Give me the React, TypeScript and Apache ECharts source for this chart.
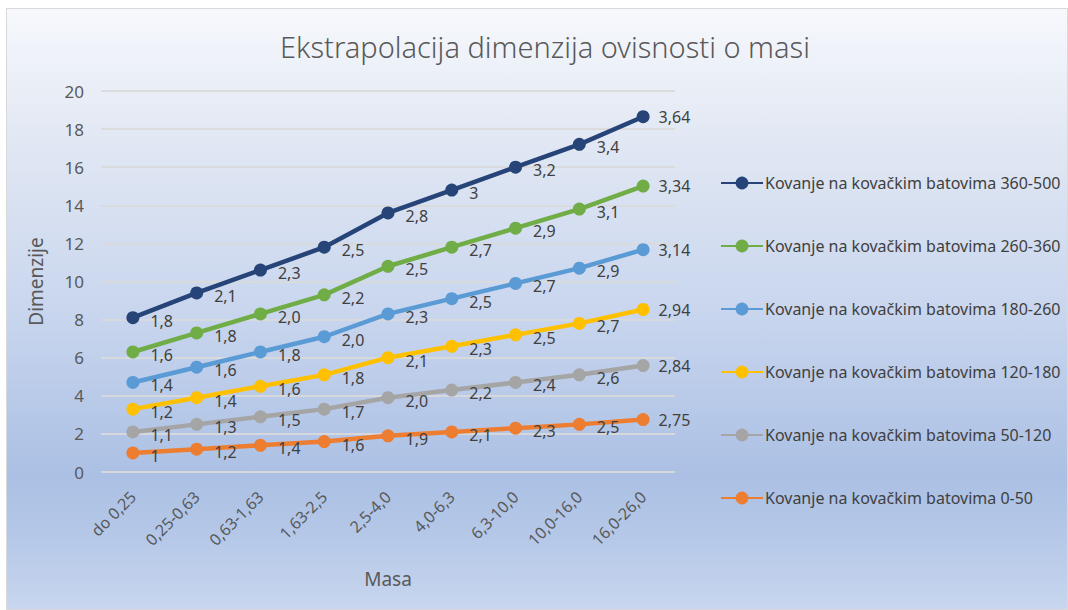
import React, { useEffect, useRef } from "react";
import * as echarts from "echarts";

const categories = ["do 0,25", "0,25-0,63", "0,63-1,63", "1,63-2,5", "2,5-4,0", "4,0-6,3", "6,3-10,0", "10,0-16,0", "16,0-26,0"];

const names = [
  "Kovanje na kovačkim batovima 0-50",
  "Kovanje na kovačkim batovima 50-120",
  "Kovanje na kovačkim batovima 120-180",
  "Kovanje na kovačkim batovima 180-260",
  "Kovanje na kovačkim batovima 260-360",
  "Kovanje na kovačkim batovima 360-500",
];

const v0_50 = [1, 1.2, 1.4, 1.6, 1.9, 2.1, 2.3, 2.5, 2.75];
const v50_120 = [1.1, 1.3, 1.5, 1.7, 2.0, 2.2, 2.4, 2.6, 2.84];
const v120_180 = [1.2, 1.4, 1.6, 1.8, 2.1, 2.3, 2.5, 2.7, 2.94];
const v180_260 = [1.4, 1.6, 1.8, 2.0, 2.3, 2.5, 2.7, 2.9, 3.14];
const v260_360 = [1.6, 1.8, 2.0, 2.2, 2.5, 2.7, 2.9, 3.1, 3.34];
const v360_500 = [1.8, 2.1, 2.3, 2.5, 2.8, 3, 3.2, 3.4, 3.64];

const l0_50 = ["1", "1,2", "1,4", "1,6", "1,9", "2,1", "2,3", "2,5", "2,75"];
const l50_120 = ["1,1", "1,3", "1,5", "1,7", "2,0", "2,2", "2,4", "2,6", "2,84"];
const l120_180 = ["1,2", "1,4", "1,6", "1,8", "2,1", "2,3", "2,5", "2,7", "2,94"];
const l180_260 = ["1,4", "1,6", "1,8", "2,0", "2,3", "2,5", "2,7", "2,9", "3,14"];
const l260_360 = ["1,6", "1,8", "2,0", "2,2", "2,5", "2,7", "2,9", "3,1", "3,34"];
const l360_500 = ["1,8", "2,1", "2,3", "2,5", "2,8", "3", "3,2", "3,4", "3,64"];

const yTicks = [0, 20, 2];

const colors = ["#ed7d31", "#a5a5a5", "#ffc000", "#5b9bd5", "#70ad47", "#264478"];

const FONT = "'Noto Sans', sans-serif";

export default function App() {
  const ref = useRef<HTMLDivElement>(null);
  useEffect(() => {
    if (!ref.current) return;
    const chart = echarts.init(ref.current, undefined, { renderer: "svg" });
    const values = [v0_50, v50_120, v120_180, v180_260, v260_360, v360_500];
    const labels = [l0_50, l50_120, l120_180, l180_260, l260_360, l360_500];
    chart.setOption({
      animation: false,
      backgroundColor: "transparent",
      textStyle: { fontFamily: FONT },
      title: {
        text: "Ekstrapolacija dimenzija ovisnosti o masi",
        left: 540,
        textAlign: "center",
        top: 27,
        textStyle: { fontFamily: FONT, fontSize: 29, fontWeight: 300, color: "#595959" },
      },
      legend: {
        orient: "vertical",
        left: 715,
        top: 170,
        itemWidth: 42,
        itemHeight: 16,
        itemGap: 47,
        data: names.slice().reverse(),
        textStyle: { fontFamily: FONT, fontSize: 16, color: "#404040", padding: [0, 0, 0, -3] },
      },
      grid: { left: 101, right: 393, top: 91, bottom: 138 },
      xAxis: {
        type: "category",
        data: categories,
        boundaryGap: true,
        name: "Masa",
        nameLocation: "middle",
        nameGap: 97,
        nameTextStyle: { fontFamily: FONT, fontSize: 19, color: "#595959" },
        axisLine: { show: false },
        axisTick: { show: false },
        axisLabel: { rotate: 45, fontSize: 16, color: "#595959", margin: 22, interval: 0 },
      },
      yAxis: {
        type: "value",
        min: yTicks[0],
        max: yTicks[1],
        interval: yTicks[2],
        name: "Dimenzije",
        nameLocation: "middle",
        nameGap: 56,
        nameTextStyle: { fontFamily: FONT, fontSize: 19, color: "#595959" },
        axisLabel: { fontSize: 17, color: "#595959", margin: 17 },
        splitLine: { lineStyle: { color: "rgba(217,217,217,0.9)", width: 2 } },
      },
      series: names.map((n, i) => ({
        name: n,
        type: "line",
        stack: "total",
        data: values[i].map((v, j) =>
          j === values[i].length - 1 ? { value: v, label: { offset: [0, 0], distance: 9 } } : v
        ),
        color: colors[i],
        symbol: "circle",
        symbolSize: 13,
        lineStyle: { width: 4.5, color: colors[i] },
        itemStyle: { color: colors[i] },
        z: 2 + i,
        label: {
          show: true,
          position: "right",
          distance: 11,
          offset: [0, 3],
          fontSize: 16,
          color: "#404040",
          formatter: (p: any) => labels[i][p.dataIndex],
        },
      })),
    });
    return () => chart.dispose();
  }, []);
  return (
    <div style={{ position: "absolute", left: 0, top: 0, width: 1068, height: 610, background: "#fff" }}>
      <div
        style={{
          position: "absolute",
          left: 6,
          top: 8,
          right: 0,
          bottom: 0,
          border: "1px solid #d9d9d9",
          background: "linear-gradient(to bottom, #f6f8fc 0%, #e3e9f4 20%, #c9d6ee 50%, #abc0e4 78%, #b5c8e8 88%, #c8d6ee 100%)",
        }}
      />
      <div ref={ref} style={{ position: "absolute", left: 0, top: 0, width: 1068, height: 610 }} />
    </div>
  );
}
